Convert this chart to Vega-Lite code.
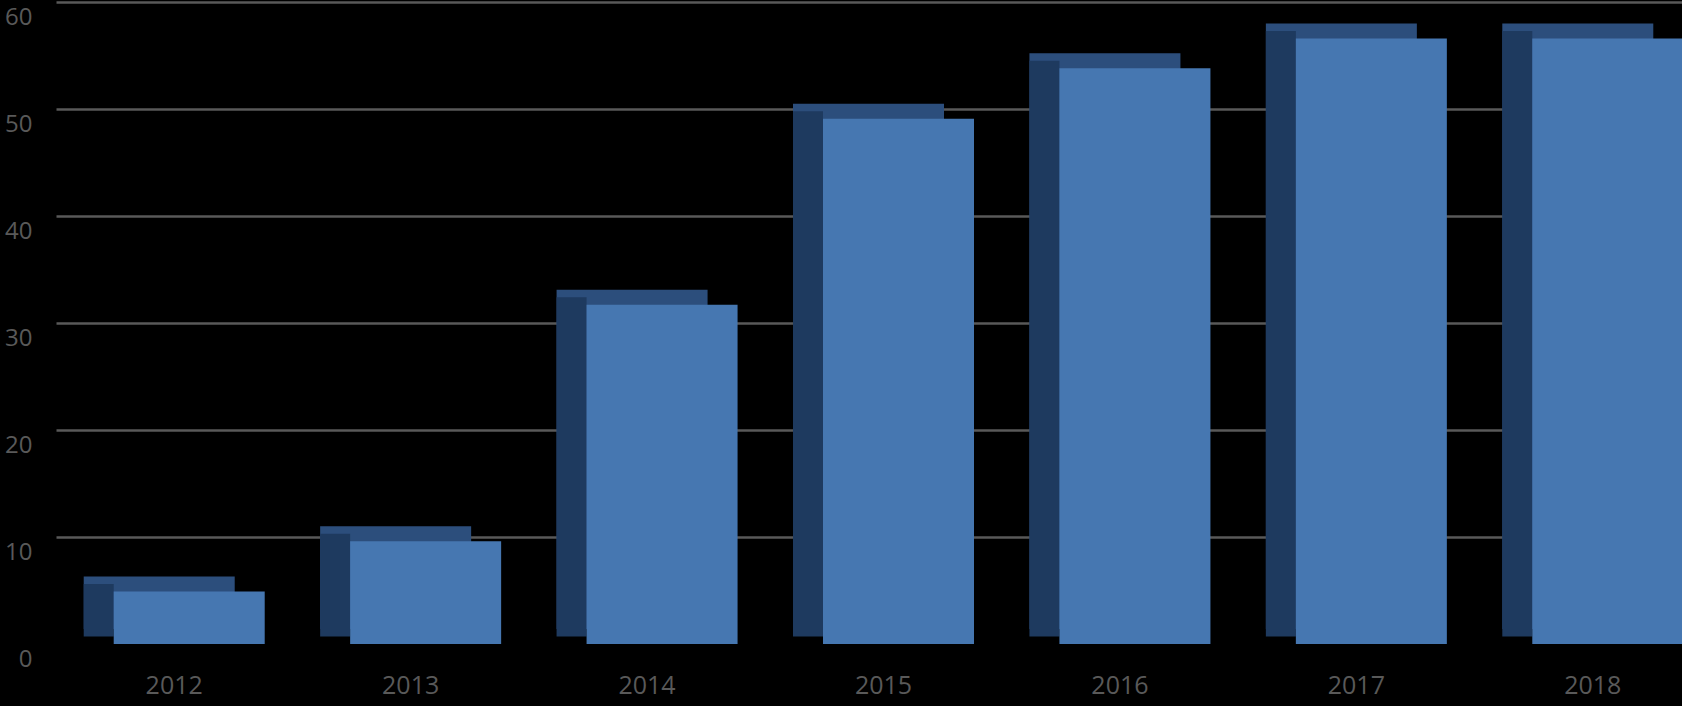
{
  "$schema": "https://vega.github.io/schema/vega-lite/v6.json",
  "autosize": "none",
  "width": 1626,
  "height": 642,
  "padding": {"left": 56, "top": 2, "right": 0, "bottom": 62},
  "background": "#000000",
  "config": {"view": {"stroke": null}},
  "data": {
    "values": [
      {"year": "2012", "value": 4.9},
      {"year": "2013", "value": 9.6},
      {"year": "2014", "value": 31.7},
      {"year": "2015", "value": 49.1},
      {"year": "2016", "value": 53.8},
      {"year": "2017", "value": 56.6},
      {"year": "2018", "value": 56.6}
    ]
  },
  "encoding": {
    "x": {
      "field": "year",
      "type": "nominal",
      "sort": null,
      "title": null,
      "scale": {"range": [0, 1655], "paddingInner": 0.234, "paddingOuter": 0.117},
      "axis": {
        "domain": false,
        "ticks": false,
        "grid": false,
        "labelAngle": 0,
        "labelFont": "Open Sans",
        "labelFontSize": 25,
        "labelColor": "#595959",
        "labelPadding": 29,
        "labelBaseline": "top"
      }
    },
    "y": {
      "field": "value",
      "type": "quantitative",
      "title": null,
      "scale": {"domain": [0, 60], "nice": false},
      "axis": {
        "values": [0, 10, 20, 30, 40, 50, 60],
        "domain": false,
        "ticks": false,
        "grid": true,
        "gridColor": {"condition": {"test": "datum.value === 0", "value": "transparent"}, "value": "#595959"},
        "gridWidth": 2.5,
        "labelFont": "Open Sans",
        "labelFontSize": 24,
        "labelColor": "#595959",
        "labelPadding": 24,
        "labelOffset": 15,
        "labelAlign": "right"
      }
    }
  },
  "layer": [
    {
      "mark": {"type": "bar", "width": 151, "xOffset": -15, "yOffset": -15, "y2Offset": -15, "color": "#2c4e7c"}
    },
    {
      "mark": {"type": "bar", "width": 30, "xOffset": -75.5, "yOffset": -7.5, "y2Offset": -7.5, "color": "#1e3a5f"}
    },
    {
      "mark": {"type": "bar", "width": 151, "xOffset": 15, "color": "#4677b1"}
    }
  ]
}
